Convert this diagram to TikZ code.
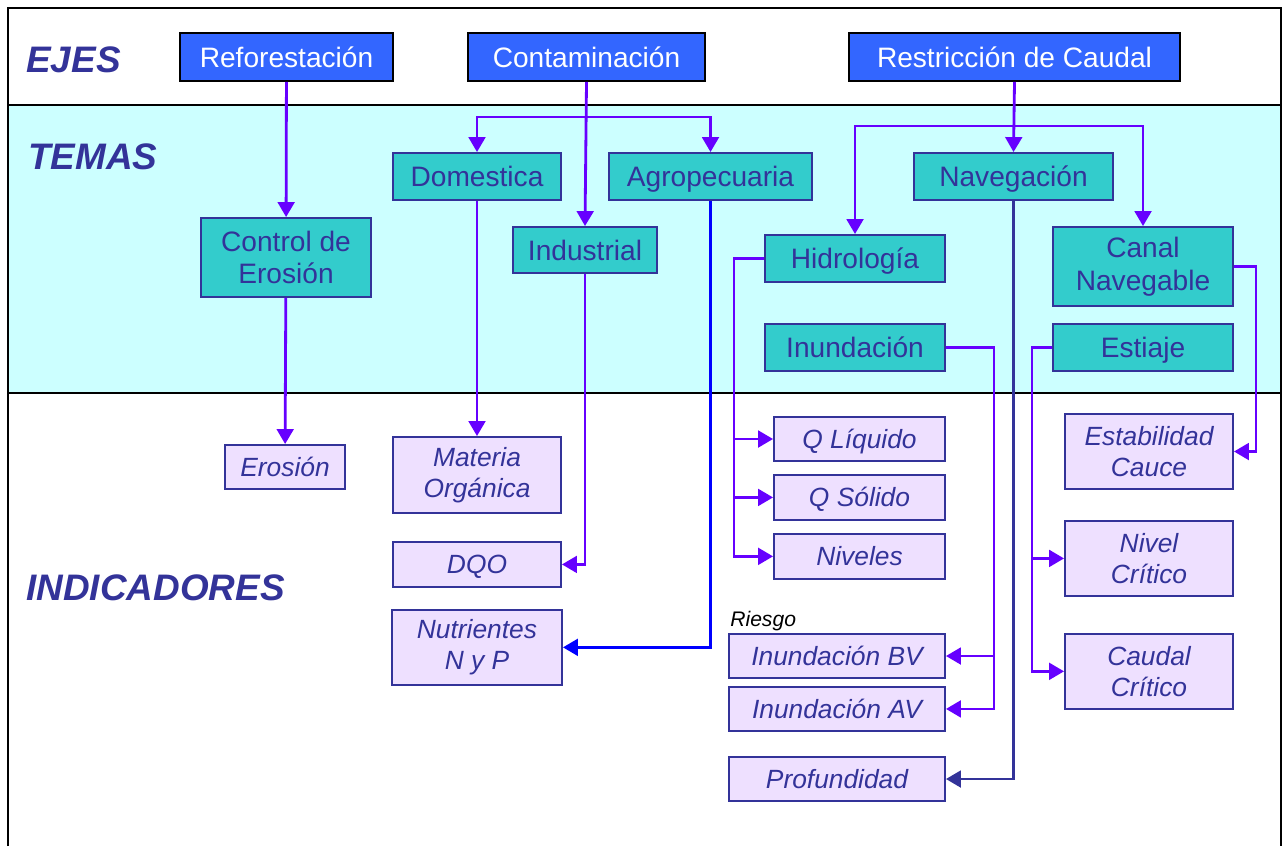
\documentclass[tikz,border=0pt]{standalone}
\usepackage{fontspec}
\setmainfont{Liberation Sans}
\usetikzlibrary{positioning,arrows.meta,calc}
\definecolor{tinta}{RGB}{51,51,153}
\definecolor{ejeazul}{RGB}{51,102,255}
\definecolor{temaverde}{RGB}{51,204,204}
\definecolor{franja}{RGB}{204,255,255}
\definecolor{indrosa}{RGB}{238,224,255}
\definecolor{violeta}{RGB}{102,0,255}
\definecolor{azulagro}{RGB}{0,0,255}

\begin{document}
\begin{tikzpicture}[
		x=0.02cm, y=-0.02cm,
		every node/.style={align=center, inner sep=0pt},
		>={Triangle[length=8.5pt,width=9.5pt]},   % треугольные стрелки
		eje/.style={draw=black, line width=1.1pt, fill=ejeazul, text=white,
			font=\fontsize{16}{19}\selectfont, minimum height=0.96cm,
			text height=12pt, text depth=0.5pt},
		tema/.style={draw=tinta, line width=1.1pt, fill=temaverde, text=tinta,
			font=\fontsize{16}{18.5}\selectfont, minimum height=0.94cm,
			text height=12pt, text depth=0.5pt},
		indic/.style={draw=tinta, line width=1.1pt, fill=indrosa, text=tinta,
			font=\fontsize{15}{17.5}\selectfont\itshape, minimum height=0.88cm,
			text height=11.5pt, text depth=0.8pt},
		doble/.style={text height=, text depth=},
		nivelt/.style={text=tinta, anchor=west,
			font=\fontsize{21}{24}\selectfont\bfseries\itshape},
		flecha/.style={draw=violeta, line width=1.6pt}
		]
		\useasboundingbox (0,0) rectangle (1283,846);
		
		% Рамка и полоса тем
		\fill[franja] (8,105) rectangle (1281,393);
		\draw[line width=1.4pt] (8,846) -- (8,8) -- (1281,8) -- (1281,846);
		\draw[line width=1.4pt] (8,105) -- (1281,105);
		\draw[line width=1.4pt] (8,393) -- (1281,393);
		
		% Уровни
		\node[nivelt] (lejes) at (26,60) {EJES};
		\node[nivelt] (ltemas) at (28,157) {TEMAS};
		\node[nivelt] (lindic) at (26,588) {INDICADORES};
		
		% Оси
		\node[eje, minimum width=4.26cm] (refo) at (286.5,57) {Reforestación};
		\node[eje, minimum width=4.74cm] (conta) at (586.5,57) {Contaminación};
		\node[eje, minimum width=6.62cm] (restr) at (1014.5,57) {Restricción de Caudal};
		
		% Темы
		\node[tema, minimum width=3.36cm] (dom) at (477,176.5) {Domestica};
		\node[tema, minimum width=4.06cm] (agro) at (710.5,176.5) {Agropecuaria};
		\node[tema, minimum width=3.98cm] (nave) at (1013.5,176.5) {Navegación};
		\node[tema, doble, minimum width=3.4cm, minimum height=1.58cm] (ctrl) at (286,257.5) {Control de\\Erosión};
		\node[tema, minimum width=2.88cm, minimum height=0.92cm] (indus) at (585,250) {Industrial};
		\node[tema, minimum width=3.6cm] (hidro) at (855,258.5) {Hidrología};
		\node[tema, minimum width=3.6cm, below=0.8cm of hidro] (inund) {Inundación};
		\node[tema, doble, minimum width=3.6cm, minimum height=1.58cm] (canal) at (1143,266.5) {Canal\\Navegable};
		\node[tema, minimum width=3.6cm, below=0.32cm of canal] (esti) {Estiaje};
		
		% Индикаторы
		\node[indic, minimum width=2.4cm] (erosion) at (285,467) {Erosión};
		\node[indic, doble, minimum width=3.36cm, minimum height=1.52cm] (materia) at (477,475) {Materia\\Orgánica};
		\node[indic, minimum width=3.36cm, minimum height=0.9cm, below=0.54cm of materia] (dqo) {DQO};
		\node[indic, doble, minimum width=3.4cm, minimum height=1.5cm, below=0.42cm of dqo] (nutri) {Nutrientes\\N y P};
		\node[indic, minimum width=3.42cm] (qliq) at (859.5,439) {Q Líquido};
		\node[indic, minimum width=3.42cm, minimum height=0.9cm, below=0.24cm of qliq] (qsol) {Q Sólido};
		\node[indic, minimum width=3.42cm, minimum height=0.9cm, below=0.24cm of qsol] (niveles) {Niveles};
		\node[indic, minimum width=4.32cm] (ibv) at (837,656) {Inundación BV};
		\node[indic, minimum width=4.32cm, below=0.14cm of ibv] (iav) {Inundación AV};
		\node[indic, minimum width=4.32cm] (prof) at (837,779) {Profundidad};
		\node[anchor=south west, font=\fontsize{12}{14}\selectfont\itshape] (riesgo) at (730,631) {Riesgo};
		\node[indic, doble, minimum width=3.36cm, minimum height=1.5cm] (estab) at (1149,451.5) {Estabilidad\\Cauce};
		\node[indic, doble, minimum width=3.36cm, minimum height=1.5cm, below=0.6cm of estab] (ncrit) {Nivel\\Crítico};
		\node[indic, doble, minimum width=3.36cm, minimum height=1.5cm, below=0.72cm of ncrit] (ccrit) {Caudal\\Crítico};
		
		% Стрелки: оси -> темы
		\draw[flecha, ->] (refo) -- (ctrl);
		\draw[flecha, ->] (conta.south) -- (indus.north);
		\draw[flecha, <->] (dom.north) -- ++(0,-35) -| (agro.north);
		\draw[flecha, ->] (restr.south) -- (nave.north);
		\draw[flecha, <->] (hidro.north) -- ++(0,-108) -| (canal.north);
		
		% Стрелки: темы -> индикаторы
		\draw[flecha, ->] (ctrl) -- (erosion);
		\draw[flecha, ->] (dom.south) -- (materia.north);
		\draw[flecha, ->] (indus.south) |- (dqo.east);
		\draw[flecha, draw=azulagro, ->] (agro.south) |- (nutri.east);
		\draw[flecha, draw=tinta, ->] (nave.south) |- (prof.east);
		
		\coordinate (hx) at ($(hidro.west)+(-30,0)$);
		\draw[flecha, ->] (hidro.west) -- (hx) |- (qliq.west);
		\draw[flecha, ->] (hx) |- (qsol.west);
		\draw[flecha, ->] (hx) |- (niveles.west);
		
		\coordinate (ix) at ($(inund.east)+(48,0)$);
		\draw[flecha, ->] (inund.east) -- (ix) |- (ibv.east);
		\draw[flecha, ->] (ix) |- (iav.east);
		
		\coordinate (ex) at ($(esti.west)+(-20,0)$);
		\draw[flecha, ->] (esti.west) -- (ex) |- (ncrit.west);
		\draw[flecha, ->] (ex) |- (ccrit.west);
		
		\draw[flecha, ->] (canal.east) -- ++(22,0) |- (estab.east);
	\end{tikzpicture}
\end{document}
